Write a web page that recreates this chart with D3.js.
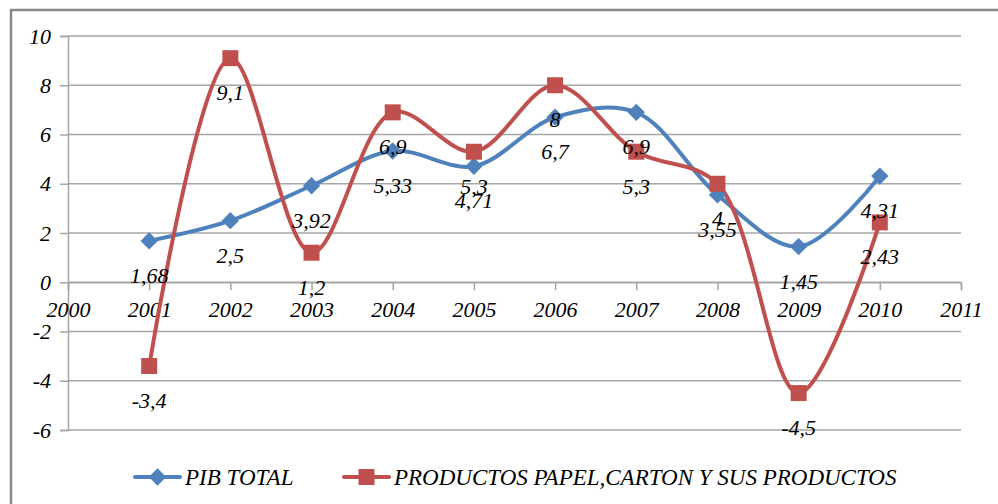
<!DOCTYPE html>
<html>
<head>
<meta charset="utf-8">
<script src="https://cdn.jsdelivr.net/npm/d3@7/dist/d3.min.js"></script>
<style>
  html, body { margin: 0; padding: 0; background: #fff; }
  svg { display: block; }
  svg text { font-family: "Liberation Serif", "Times New Roman", serif !important; font-style: italic; fill: #000; }
</style>
</head>
<body>
<svg id="chart" width="998" height="504"></svg>
<script>
// Years on the horizontal axis and the two annual growth series (%)
const years = [2001, 2002, 2003, 2004, 2005, 2006, 2007, 2008, 2009, 2010];
const pibTotal = [1.68, 2.5, 3.92, 5.33, 4.71, 6.7, 6.9, 3.55, 1.45, 4.31];
const papelCarton = [-3.4, 9.1, 1.2, 6.9, 5.3, 8, 5.3, 4, -4.5, 2.43];
const seriesNames = ["PIB TOTAL", "PRODUCTOS PAPEL,CARTON Y SUS PRODUCTOS"];
const xTicks = [2000, 2001, 2002, 2003, 2004, 2005, 2006, 2007, 2008, 2009, 2010, 2011];
const yTicks = [-6, -4, -2, 0, 2, 4, 6, 8, 10];

const colors = ["#4F81BD", "#C0504D"];
const fmt = v => String(v).replace(".", ",");
const FONT = 22;
const LEGEND_FONT = 23;

const svg = d3.select("#chart");

// Outer chart frame
svg.append("rect")
  .attr("x", 11).attr("y", 10)
  .attr("width", 1000).attr("height", 520)
  .attr("fill", "#fff")
  .attr("stroke", "#878787").attr("stroke-width", 2.5);

const x = d3.scaleLinear().domain([2000, 2011]).range([68, 961]);
const y = d3.scaleLinear().domain([-6, 10]).range([430, 36]);

// Horizontal gridlines
svg.append("g")
  .selectAll("line")
  .data(yTicks)
  .join("line")
  .attr("x1", x(2000)).attr("x2", x(2011))
  .attr("y1", d => y(d)).attr("y2", d => y(d))
  .attr("stroke", "#a6a6a6").attr("stroke-width", 1.5);

// Vertical value axis
const yAxis = svg.append("g")
  .attr("transform", `translate(${x(2000)},0)`)
  .call(d3.axisLeft(y).tickValues(yTicks).tickSize(8).tickPadding(9).tickFormat(d => String(d)));
yAxis.attr("font-family", null).attr("font-size", FONT);
yAxis.select(".domain").attr("stroke", "#a6a6a6").attr("stroke-width", 1.5);
yAxis.selectAll(".tick line").attr("stroke", "#a6a6a6").attr("stroke-width", 1.5);
yAxis.selectAll(".tick text").attr("fill", "#000");

// Horizontal year axis crossing at zero
const xAxis = svg.append("g")
  .attr("transform", `translate(0,${y(0)})`)
  .call(d3.axisBottom(x).tickValues(xTicks).tickSize(8).tickPadding(11).tickFormat(d => String(d)));
xAxis.attr("font-family", null).attr("font-size", FONT);
xAxis.select(".domain").attr("stroke", "#a6a6a6").attr("stroke-width", 1.5);
xAxis.selectAll(".tick line").attr("stroke", "#a6a6a6").attr("stroke-width", 1.5);
xAxis.selectAll(".tick text").attr("fill", "#000");

const series = [
  { name: seriesNames[0], values: pibTotal, color: colors[0] },
  { name: seriesNames[1], values: papelCarton, color: colors[1] }
];

const line = d3.line()
  .x((d, i) => x(years[i]))
  .y(d => y(d))
  .curve(d3.curveCatmullRom.alpha(0.5));

series.forEach(s => {
  svg.append("path")
    .datum(s.values)
    .attr("d", line)
    .attr("fill", "none")
    .attr("stroke", s.color)
    .attr("stroke-width", 4)
    .attr("stroke-linejoin", "round");
});

// Markers: rotated squares (diamonds) for PIB, squares for paper products
const diamond = d3.symbol().type(d3.symbolSquare).size(150);
const square = d3.symbol().type(d3.symbolSquare).size(256);
series.forEach((s, si) => {
  svg.append("g")
    .selectAll("path")
    .data(s.values)
    .join("path")
    .attr("d", si === 0 ? diamond : square)
    .attr("transform", (d, i) => `translate(${x(years[i])},${y(d)})` + (si === 0 ? " rotate(45)" : ""))
    .attr("fill", s.color);
});

// Value labels below each marker
series.forEach(s => {
  svg.append("g")
    .selectAll("text")
    .data(s.values)
    .join("text")
    .attr("x", (d, i) => x(years[i]))
    .attr("y", d => y(d) + 42)
    .attr("text-anchor", "middle")
    .attr("font-size", FONT)
    .text(d => fmt(d));
});

// Legend
const legendItems = [
  { name: seriesNames[0], color: colors[0], x: 135, marker: diamond, rot: 45 },
  { name: seriesNames[1], color: colors[1], x: 344, marker: square, rot: 0 }
];
const ly = 477;
legendItems.forEach(it => {
  const g = svg.append("g");
  g.append("line")
    .attr("x1", it.x).attr("x2", it.x + 45)
    .attr("y1", ly).attr("y2", ly)
    .attr("stroke", it.color).attr("stroke-width", 4).attr("stroke-linecap", "round");
  g.append("path")
    .attr("d", it.marker)
    .attr("transform", `translate(${it.x + 22.5},${ly}) rotate(${it.rot})`)
    .attr("fill", it.color);
  g.append("text")
    .attr("x", it.x + 50).attr("y", ly + 8)
    .attr("font-size", LEGEND_FONT)
    .text(it.name);
});
</script>
</body>
</html>
